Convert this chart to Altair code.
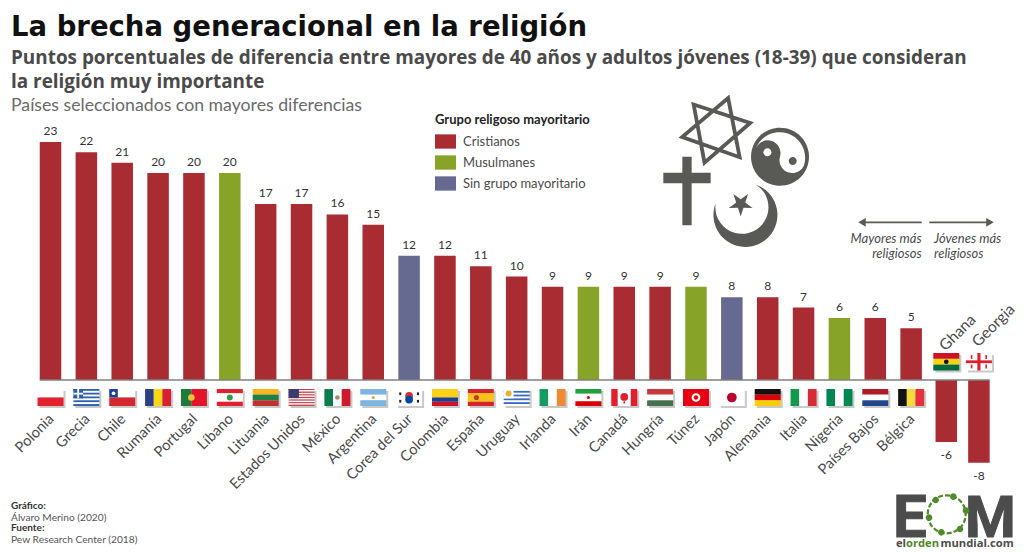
import altair as alt
import pandas as pd

# ---------- data ----------
paises = ["Polonia","Grecia","Chile","Rumanía","Portugal","Líbano","Lituania","Estados Unidos","México","Argentina",
          "Corea del Sur","Colombia","España","Uruguay","Irlanda","Irán","Canadá","Hungría","Túnez","Japón",
          "Alemania","Italia","Nigeria","Países Bajos","Bélgica","Ghana","Georgia"]
valores = [23,22,21,20,20,20,17,17,16,15,12,12,11,10,9,9,9,9,9,8,8,7,6,6,5,-6,-8]
C, M, S = "Cristianos", "Musulmanes", "Sin grupo mayoritario"
grupos = [C,C,C,C,C,M,C,C,C,C,S,C,C,C,C,M,C,C,M,S,C,C,M,C,C,C,C]
GRUPOS = [C, M, S]
COLORES = ["#A92C33", "#88A428", "#666A91"]
FONT = "Lato"
INK = "#4a4a4a"
DARK = "#595955"

W, H = 1008, 544
# page pixel -> chart pixel
def px(v): return v - 8
STEP, X0 = 35.86, 50.5
UNIT, BASE = 10.35, 380.0
xdom = [(8 - X0) / STEP, (8 + W - X0) / STEP]
ydom = [(BASE - 8 - H) / UNIT, (BASE - 8) / UNIT]
# the two negative bars sit slightly closer together than the regular step
pos = list(range(25)) + [24.98, 25.89]
BAR = 0.3

df = pd.DataFrame({"pais": paises, "valor": valores, "grupo": grupos, "pos": pos})
df["x0"] = df.pos - BAR
df["x1"] = df.pos + BAR
df["cero"] = 0
df["etq"] = df.valor.astype(str)

# ---------- flags: (direction, [(colour, weight)...]), extra rects, extra dots ----------
R, W_, G = "#E01E2D", "#FFFFFF", "#168A4A"
def stripes(n, a, b): return [(a if i % 2 == 0 else b, 1) for i in range(n)]
flags = {
 "Polonia": ("h", [(W_,1),("#E4202F",1)], [], []),
 "Grecia": ("h", stripes(9,"#2B5FB0",W_), [(0,.37,0,.55,"#2B5FB0"),(.15,.22,0,.55,W_),(0,.37,.22,.33,W_)], []),
 "Chile": ("h", [(W_,1),("#D5272F",1)], [(0,.33,0,.5,"#1F3F9A")], [(.165,.25,W_,14)]),
 "Rumanía": ("v", [("#2A3F85",1),("#F9D616",1),("#D81E32",1)], [], []),
 "Portugal": ("v", [("#1F7A3C",2),("#E3152B",3)], [], [(.4,.5,"#E8C33A",44)]),
 "Líbano": ("h", [("#E3202F",1),(W_,2),("#E3202F",1)], [], [(.5,.5,"#2E9E4F",36)]),
 "Lituania": ("h", [("#F8B71E",1),("#1F7F45",1),("#BE3232",1)], [], []),
 "Estados Unidos": ("h", stripes(13,"#C8434E",W_), [(0,.4,0,.54,"#3C3B6E")], []),
 "México": ("v", [("#0D7C4C",1),(W_,1),("#D01A2B",1)], [], [(.5,.5,"#A58A6A",22)]),
 "Argentina": ("h", [("#7CB4E2",1),(W_,1),("#7CB4E2",1)], [], [(.5,.5,"#E0A040",10)]),
 "Corea del Sur": ("h", [(W_,1)], [(.12,.2,.2,.36,"#222222"),(.8,.88,.2,.36,"#222222"),(.12,.2,.64,.8,"#222222"),(.8,.88,.64,.8,"#222222")],
                   [(.5,.4,"#CD2E3A",60),(.5,.62,"#0047A0",60)]),
 "Colombia": ("h", [("#FDD116",2),("#1C3F94",1),("#CE1126",1)], [], []),
 "España": ("h", [("#D8232A",1),("#F7C21A",2),("#D8232A",1)], [], [(.33,.5,"#B5432A",26)]),
 "Uruguay": ("h", stripes(9,W_,"#3A6CBF"), [(0,.38,0,.55,W_)], [(.19,.27,"#E8B030",36)]),
 "Irlanda": ("v", [("#169B62",1),(W_,1),("#F08A32",1)], [], []),
 "Irán": ("h", [("#239F40",1),(W_,1.6),("#DA0000",1)], [], [(.5,.5,"#DA0000",10)]),
 "Canadá": ("v", [("#E01E2D",1),(W_,2),("#E01E2D",1)], [(.47,.53,.72,.85,"#E01E2D")], [(.5,.47,"#E01E2D",60)]),
 "Hungría": ("h", [("#C8363E",1),(W_,1),("#477050",1)], [], []),
 "Túnez": ("h", [("#E70013",1)], [], [(.5,.5,W_,75),(.5,.5,"#E70013",20)]),
 "Japón": ("h", [(W_,1)], [], [(.5,.5,"#BC002D",95)]),
 "Alemania": ("h", [("#111111",1),("#DD0000",1),("#FFCE00",1)], [], []),
 "Italia": ("v", [("#109A4B",1),(W_,1),("#D72B37",1)], [], []),
 "Nigeria": ("v", [("#008751",1),(W_,1),("#008751",1)], [], []),
 "Países Bajos": ("h", [("#AE1C28",1),(W_,1),("#21468B",1)], [], []),
 "Bélgica": ("v", [("#111111",1),("#F8D93A",1),("#E5303F",1)], [], []),
 "Ghana": ("h", [("#CE1126",1),("#FCD116",1),("#006B3F",1)], [], [(.5,.5,"#111111",22)]),
 "Georgia": ("h", [(W_,1)], [(0,1,.42,.58,"#E01E2D"),(.44,.56,0,1,"#E01E2D"),
                             (.19,.25,.12,.34,"#E01E2D"),(.75,.81,.12,.34,"#E01E2D"),(.19,.25,.66,.88,"#E01E2D"),(.75,.81,.66,.88,"#E01E2D")], []),
}
FW = 26 / STEP / 2           # half flag width, in x units
TOP_LOW, BOT_LOW = (BASE - 389) / UNIT, (BASE - 406) / UNIT
TOP_UP, BOT_UP = (BASE - 353) / UNIT, (BASE - 370.5) / UNIT
rects, dots, shadows = [], [], []
for p, v in zip(paises, pos):
    d, bands, extra, circ = flags[p]
    top, bot = (TOP_UP, BOT_UP) if p in ("Ghana", "Georgia") else (TOP_LOW, BOT_LOW)
    xa, xb = v - FW, v + FW
    fx = lambda f: xa + (xb - xa) * f
    fy = lambda f: top + (bot - top) * f
    shadows.append(dict(x0=xa + 2/STEP, x1=xb + 2/STEP, y0=top - 2/UNIT, y1=bot - 2/UNIT))
    tot = sum(b[1] for b in bands); acc = 0
    for col, w in bands:
        a, b = acc / tot, (acc + w) / tot; acc += w
        if d == "h": rects.append(dict(x0=xa, x1=xb, y0=fy(a), y1=fy(b), c=col))
        else: rects.append(dict(x0=fx(a), x1=fx(b), y0=top, y1=bot, c=col))
    for a, b, e, f, col in extra:
        rects.append(dict(x0=fx(a), x1=fx(b), y0=fy(e), y1=fy(f), c=col))
    for a, b, col, s in circ:
        dots.append(dict(x=fx(a), y=fy(b), c=col, s=s))

# ---------- helpers ----------
xs = alt.Scale(domain=xdom, nice=False, zero=False)
ys = alt.Scale(domain=ydom, nice=False, zero=False)
X = lambda f: alt.X(f, type="quantitative", scale=xs, axis=None)
Y = lambda f: alt.Y(f, type="quantitative", scale=ys, axis=None)
one = alt.Data(values=[{"a": 1}])

def txt(t, x, y, size, color=INK, weight="normal", align="left", style="normal", font=FONT, **kw):
    return alt.Chart(one).mark_text(fontSize=size, color=color, fontWeight=weight, align=align, fontStyle=style,
                                    baseline="alphabetic", font=font, **kw).encode(
        x=alt.value(px(x)), y=alt.value(px(y)), text=alt.value(t))

def icon(path, x, y, r, color=DARK, stroke=None):
    if stroke:
        m = alt.Chart(one).mark_point(shape=path, size=(2*r)**2, filled=False, stroke=color, strokeWidth=stroke, opacity=1)
    else:
        m = alt.Chart(one).mark_point(shape=path, size=(2*r)**2, filled=True, fill=color, strokeWidth=0, opacity=1)
    return m.encode(x=alt.value(px(x)), y=alt.value(px(y)))

CIRCLE = "M-1,0A1,1 0 1 1 1,0A1,1 0 1 1 -1,0Z"
STAR_DAVID = "M-.648,-.759L.99,-.222L-.333,.926ZM.352,-.944L.685,.769L-.981,.185Z"
CROSS = "M-.136,-1H.136V-.533H.69V-.224H.136V1H-.136V-.224H-.69V-.533H-.136Z"
YIN = "M-.832,-.284A.88,.88 0 0 1 .832,.284A.44,.44 0 0 1 0,0A.44,.44 0 0 0 -.832,-.284Z"
CRESCENT = "M-.99,-.365A1,1 0 1 0 .27,-.948A.83,.83 0 1 1 -.99,-.365Z"
STAR5 = "M0,1L-.223,.307L-.95,.31L-.361,-.117L-.59,-.81L0,-.38L.59,-.81L.361,-.117L.95,.31L.223,.307Z"
SWATCH = "M-1,-.68H1V.68H-1Z"

# ---------- marks ----------
bars = alt.Chart(df).mark_rect().encode(
    x=X("x0"), x2="x1", y=Y("valor"), y2="cero",
    color=alt.Color("grupo:N", scale=alt.Scale(domain=GRUPOS, range=COLORES),
        legend=alt.Legend(title="Grupo religoso mayoritario", orient="none", legendX=px(435), legendY=px(114),
                          titleFont=FONT, titleFontSize=13, titleFontWeight="bold", titleColor="#222222", titlePadding=4,
                          labelFont=FONT, labelFontSize=13, labelColor=INK, labelOffset=7, rowPadding=3,
                          symbolType=SWATCH, symbolSize=441, symbolStrokeWidth=0, symbolOpacity=1)))
base = alt.Chart(pd.DataFrame({"a":[pos[0]-BAR], "b":[pos[-1]+BAR], "y":[0]})).mark_rule(color="#7f7f7f", strokeWidth=1.6).encode(
    x=X("a"), x2="b", y=Y("y"))
lab_pos = alt.Chart(df[df.valor > 0]).mark_text(fontSize=12, font=FONT, color="#333333", dy=-11).encode(
    x=X("pos"), y=Y("valor"), text="etq:N")
lab_neg = alt.Chart(df[df.valor < 0]).mark_text(fontSize=12, font=FONT, color="#333333", dy=13).encode(
    x=X("pos"), y=Y("valor"), text="etq:N")
names = alt.Chart(df[df.valor > 0]).mark_text(fontSize=14.7, font=FONT, color=INK, angle=315, align="right", baseline="middle", dx=2).encode(
    x=X("pos"), y=alt.value(px(418.5)), text="pais:N")
def upper(p, y):
    return alt.Chart(df[df.pais == p]).mark_text(fontSize=15.5, font=FONT, color=INK, angle=315, align="left", baseline="middle", dx=-6).encode(
        x=X("pos"), y=alt.value(px(y)), text="pais:N")
shadow = alt.Chart(pd.DataFrame(shadows)).mark_rect(color="#777777", opacity=0.4).encode(x=X("x0"), x2="x1", y=Y("y0"), y2="y1")
frect = alt.Chart(pd.DataFrame(rects)).mark_rect().encode(x=X("x0"), x2="x1", y=Y("y0"), y2="y1",
    color=alt.Color("c:N", scale=None))
fdot = alt.Chart(pd.DataFrame(dots)).mark_point(filled=True, opacity=1, strokeWidth=0).encode(
    x=X("x"), y=Y("y"), fill=alt.Fill("c:N", scale=None), size=alt.Size("s:Q", scale=None))

def arrow_line(a, b):
    return alt.Chart(one).mark_rule(color=DARK, strokeWidth=1.8).encode(
        x=alt.value(px(a)), x2=alt.value(px(b)), y=alt.value(px(222.3)))
def arrow_head(x, shape):
    return alt.Chart(one).mark_point(shape=shape, size=75, filled=True, fill=DARK, strokeWidth=0, opacity=1).encode(
        x=alt.value(px(x)), y=alt.value(px(222.3)))

LOGO = "#4c4c4c"; GREEN = "#4F8A2B"
ring = [(167,60),(220,50),(258,92),(240,147),(184,157),(147,113)]
ring_marks = [alt.Chart(one).mark_point(shape=CIRCLE, size=38**2, filled=False, stroke=GREEN, strokeWidth=2.2, strokeDash=[5,2], opacity=1).encode(
    x=alt.value(px(946.7)), y=alt.value(px(514.3)))]
ring_marks += [icon(CIRCLE, 880 + a/3, 480 + b/3, 3.3, GREEN) for a, b in ring]

layers = [
    bars, base, lab_pos, lab_neg, shadow, frect, fdot, names, upper("Ghana", 344), upper("Georgia", 340),
    txt("La brecha generacional en la religión", 11, 36, 27.5, "#111111", "bold", font="DejaVu Sans"),
    txt("Puntos porcentuales de diferencia entre mayores de 40 años y adultos jóvenes (18-39) que consideran", 11, 64, 18.9, INK, "bold", font="Open Sans"),
    txt("la religión muy importante", 11, 88, 18.9, INK, "bold", font="Open Sans"),
    txt("Países seleccionados con mayores diferencias", 11, 110.5, 17.7, "#6a6a6a"),
    icon(STAR_DAVID, 716, 130.7, 34.5, DARK, 3.8),
    icon(CROSS, 687, 191, 34.3),
    icon(CIRCLE, 780, 156.7, 29),
    icon(YIN, 780, 156.7, 29, "#ffffff"),
    icon(CIRCLE, 767.4, 152.3, 4, "#ffffff"),
    icon(CIRCLE, 792.7, 161, 4, DARK),
    icon(CRESCENT, 747.3, 215, 32),
    icon(STAR5, 740.7, 204, 12.5),
    arrow_line(862, 921.7), arrow_line(929.3, 990),
    arrow_head(862, "triangle-left"), arrow_head(990, "triangle-right"),
    txt("Mayores más", 921.7, 243, 13, INK, align="right", style="italic"),
    txt("religiosos", 921.7, 258, 13, INK, align="right", style="italic"),
    txt("Jóvenes más", 934, 243, 13, INK, style="italic"),
    txt("religiosos", 934, 258, 13, INK, style="italic"),
    txt("Gráfico:", 11, 509, 10, "#333333", "bold"),
    txt("Álvaro Merino (2020)", 11, 520.5, 10.2, "#555555"),
    txt("Fuente:", 11, 531, 10, "#333333", "bold"),
    txt("Pew Research Center (2018)", 11, 542.5, 10.2, "#555555"),
    txt("E", 893, 536.5, 60, LOGO, "bold", font="Roboto", stroke=LOGO, strokeWidth=1),
    txt("M", 965, 536.5, 58, LOGO, "bold", font="Roboto", stroke=LOGO, strokeWidth=1),
    *ring_marks,
    txt("el", 896, 547, 11.2, LOGO, "bold", font="Open Sans"),
    txt("orden", 906, 547, 11.2, GREEN, "bold", font="Open Sans"),
    txt("mundial.com", 940.5, 547, 11.2, LOGO, "bold", font="Open Sans"),
]

chart = alt.layer(*layers).resolve_scale(color="independent", fill="independent", size="independent").properties(
    width=W, height=H, padding=0, autosize=alt.AutoSizeParams(type="none"), background="white"
).configure_view(stroke=None)

chart.save("out.html", embed_options={"renderer": "svg", "actions": False})
